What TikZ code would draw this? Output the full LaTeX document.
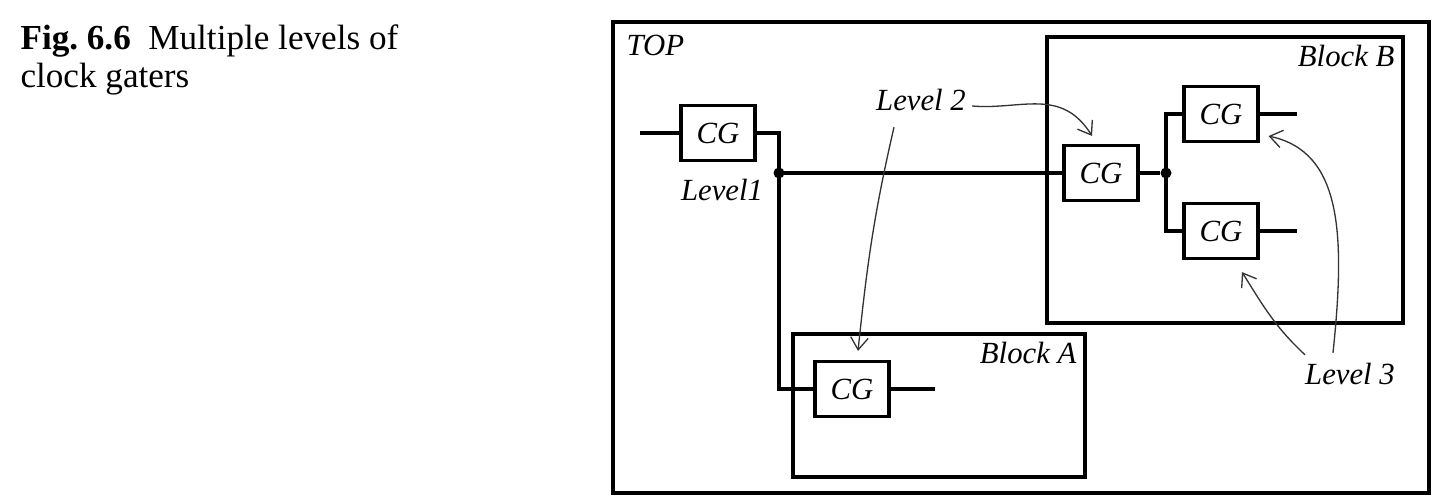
\documentclass[tikz,border=0pt]{standalone}
\usepackage{fontspec}
\setmainfont{Liberation Serif}
\usetikzlibrary{positioning, arrows.meta, calc}

\begin{document}
\begin{tikzpicture}[
    > = {Straight Barb[length=7pt, width=10pt]}, semithick,
    block/.style={draw, line width=2.2pt, inner sep=0pt},
    cg/.style={rectangle, draw, line width=1.8pt, minimum width=1.48cm, minimum height=1.1cm,
        font=\fontsize{17.5}{20}\selectfont\itshape},
    wire/.style={line width=2pt},
    dot/.style={circle, fill, inner sep=0pt, minimum size=0.22cm},
    tag/.style={font=\fontsize{17.5}{20}\selectfont\itshape},
    pointer/.style={->, line width=0.75pt, draw=black!80}
]
\useasboundingbox (0,0) rectangle (29.06,10.04);

% CAPTION
\node[anchor=north west, inner sep=0pt, align=left, font=\fontsize{20}{21.5}\selectfont] (caption)
    at (0.40, 9.56) {\textbf{Fig.~6.6}\enskip Multiple levels of\\clock gaters};

% 1. CONTAINERS
\node[block, minimum width=16.32cm, minimum height=9.42cm,
    label={[tag, anchor=north west, inner sep=0.3cm]north west:TOP}] (top) at (20.42, 4.89) {};
\node[block, minimum width=7.12cm, minimum height=5.72cm,
    label={[tag, anchor=north east, inner sep=0.2cm]north east:Block B}] (blockB) at (24.50, 6.44) {};
\node[block, minimum width=5.84cm, minimum height=2.86cm,
    label={[tag, anchor=north east, inner sep=0.2cm]north east:Block A}] (blockA) at (18.78, 1.93) {};

% 2. CLOCK GATERS
\node[cg] (cg1) at (14.36, 7.38) {CG};
\node[cg] (cgA) at (17.04, 2.26) {CG};
\node[cg] (cg2) at (22.02, 6.58) {CG};
\node[cg] (cg3) at (24.42, 7.76) {CG};
\node[cg] (cg4) at (24.42, 5.42) {CG};

\node[dot] (j1) at (15.58, 6.58) {};
\node[dot] (j2) at (23.32, 6.58) {};

\coordinate[left=0.78cm of cg1] (in1);
\coordinate[right=0.88cm of cgA] (outA);
\coordinate[right=0.74cm of cg3] (out3);
\coordinate[right=0.74cm of cg4] (out4);

% 3. CLOCK WIRES
\draw[wire] (in1) -- (cg1);
\draw[wire] (cg1.east) -| (j1.center);
\draw[wire] (j1.center) -- (cg2.west);
\draw[wire] (j1.center) |- (cgA.west);
\draw[wire] (cgA) -- (outA);
\draw[wire] (cg2) -- (j2);
\draw[wire] (j2.center) |- (cg3.west);
\draw[wire] (j2.center) |- (cg4.west);
\draw[wire] (cg3) -- (out3);
\draw[wire] (cg4) -- (out4);

% 4. LEVELS
\node[tag] (lev1) at (14.44, 6.24) {Level1};
\node[tag] (lev2) at (18.42, 8.04) {Level 2};
\node[tag] (lev3) at (27.00, 2.56) {Level 3};

\draw[pointer] ([yshift=-0.12cm]lev2.east) to[out=-5, in=122, in looseness=1.2]
    ([shift={(-0.18,0.16)}]cg2.north);
\draw[pointer] ([shift={(-0.54,-0.2)}]lev2.south) to[out=-103, in=84]
    ([shift={(0.12,0.18)}]cgA.north);
\draw[pointer] ([shift={(-0.34,0.08)}]lev3.north) to[out=84, in=-12, out looseness=1.35, in looseness=0.85]
    ([shift={(0.18,0.14)}]cg3.south east);
\draw[pointer] ([shift={(-0.9,0.04)}]lev3.north) to[out=137, in=-58]
    ([shift={(0.42,-0.24)}]cg4.south);
\end{tikzpicture}
\end{document}
